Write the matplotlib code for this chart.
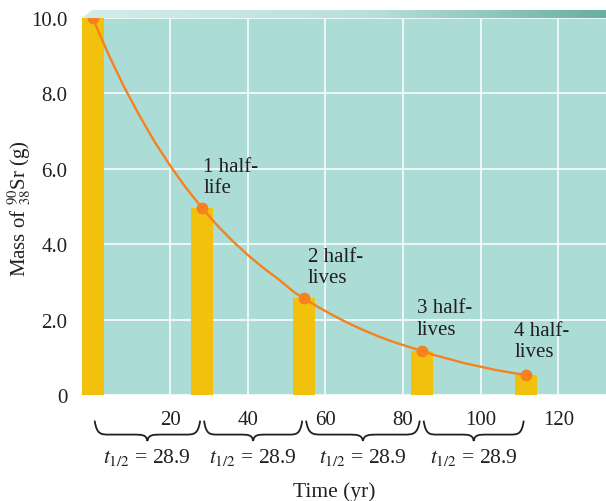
import numpy as np
import matplotlib
matplotlib.use("Agg")
import matplotlib.pyplot as plt
from matplotlib.path import Path
from matplotlib.patches import PathPatch, Polygon
from matplotlib.colors import LinearSegmentedColormap
from matplotlib.transforms import blended_transform_factory

# ── Data ─────────────────────────────────────────────────────────────────────────
half_life_times = [0.0, 28.2, 54.5, 84.8, 111.6]     # yr (bar / dot positions)
masses = [10.0, 4.96, 2.56, 1.17, 0.53]              # g of Sr-90
bar_labels = ["", "1 half-\nlife", "2 half-\nlives", "3 half-\nlives", "4 half-\nlives"]
label_x = [None, 28.5, 55.4, 83.6, 108.7]
label_y = [None, 6.32, 3.93, 2.56, 1.97]

# points
curve_t = [0.0, 4.0, 8.0, 12.0, 16.0, 20.0, 24.0, 28.2, 32.0, 36.0, 40.0, 44.0,
           48.0, 52.0, 54.5, 58.0, 62.0, 66.0, 70.0, 74.0, 78.0, 82.0, 84.8,
           88.0, 92.0, 96.0, 100.0, 104.0, 108.0, 111.6]
curve_m = [10.0, 9.05, 8.19, 7.42, 6.71, 6.08, 5.50, 4.96, 4.51, 4.09, 3.71, 3.37,
           3.06, 2.72, 2.56, 2.34, 2.11, 1.90, 1.71, 1.54, 1.39, 1.26, 1.17,
           1.06, 0.95, 0.84, 0.75, 0.66, 0.59, 0.53]

x_ticks = [20, 40, 60, 80, 100, 120]
y_ticks = [0, 2, 4, 6, 8, 10]
y_ticklabels = ["0", "2.0", "4.0", "6.0", "8.0", "10.0"]
half_life_text = r"$t_{1/2}$ = 28.9"

TEAL = "#abdcd6"
YELLOW = "#f2c10d"
ORANGE = "#f5821f"
INK = "#231f20"

plt.rcParams["font.family"] = ["Liberation Serif", "DejaVu Serif"]
plt.rcParams["mathtext.fontset"] = "stix"

fig = plt.figure(figsize=(6.06, 5.02), dpi=100)
ax = fig.add_axes([82 / 606, 106 / 502, 524 / 606, 377 / 502])
ax.set_facecolor(TEAL)
for s in ax.spines.values():
    s.set_visible(False)

ax.bar(half_life_times, masses, width=5.67, color=YELLOW, zorder=2)
ax.plot(curve_t, curve_m, color=ORANGE, lw=1.7, zorder=3, solid_joinstyle="round")
ax.plot(half_life_times, masses, "o", color=ORANGE, ms=7.5, zorder=4, clip_on=False)

ax.set_xlim(-2.76, 132.3)
ax.set_ylim(0, 10.0)
ax.set_xticks(x_ticks)
ax.set_yticks(y_ticks)
ax.set_yticklabels(y_ticklabels)
ax.tick_params(length=0, labelsize=15, colors=INK)
ax.tick_params(axis="x", pad=10.5)
ax.tick_params(axis="y", pad=10.5)
ax.grid(True, color="white", lw=1.1)
ax.set_axisbelow(True)

for lab, lx, ly in zip(bar_labels, label_x, label_y):
    if lab:
        ax.text(lx, ly, lab, fontsize=15, color=INK, ha="left", va="top",
                linespacing=1.15, zorder=5)

# ── Braces under the x axis ──────────────────────────────────────────────────────
trans = blended_transform_factory(ax.transData, ax.transAxes)


def draw_brace(x0, x1, y_end=-0.068, y_mid=-0.105, y_tip=-0.122):
    w = x1 - x0
    xm = (x0 + x1) / 2
    verts = [
        (x0, y_end),
        (x0 + 0.02 * w, y_mid), (x0 + 0.06 * w, y_mid), (x0 + 0.14 * w, y_mid),
        (xm - 0.14 * w, y_mid),
        (xm - 0.05 * w, y_mid), (xm - 0.01 * w, y_mid), (xm, y_tip),
        (xm + 0.01 * w, y_mid), (xm + 0.05 * w, y_mid), (xm + 0.14 * w, y_mid),
        (x1 - 0.14 * w, y_mid),
        (x1 - 0.06 * w, y_mid), (x1 - 0.02 * w, y_mid), (x1, y_end),
    ]
    codes = ([Path.MOVETO] + [Path.CURVE4] * 3 + [Path.LINETO] + [Path.CURVE4] * 6
             + [Path.LINETO] + [Path.CURVE4] * 3)
    patch = PathPatch(Path(verts, codes), transform=trans, fill=False,
                      edgecolor=INK, lw=1.3, clip_on=False)
    ax.add_patch(patch)
    ax.text(xm, -0.178, half_life_text, transform=trans, ha="center", va="baseline",
            fontsize=15.5, color=INK)


for a, b in zip(half_life_times[:-1], half_life_times[1:]):
    draw_brace(a + 0.5, b - 0.5)

ax.text(0.481, -0.268, "Time (yr)", transform=ax.transAxes, ha="center",
        va="baseline", fontsize=15.5, color=INK)
ax.text(-0.118, 0.496, r"Mass of $^{90}_{38}$Sr (g)", transform=ax.transAxes,
        rotation=90, ha="center", va="center", fontsize=15, color=INK)

# ── Slanted gradient strip on top of the panel ───────────────────────────────────
band = fig.add_axes([82 / 606, 483 / 502, 524 / 606, 8 / 502])
band.axis("off")
cmap = LinearSegmentedColormap.from_list(
    "band", [(0, "#d4ecea"), (0.55, "#b8e0db"), (1, "#66b0a2")])
im = band.imshow(np.linspace(0, 1, 256)[None, :], cmap=cmap, aspect="auto",
                 extent=[0, 1, 0, 1])
clip = Polygon([(0, 0), (1, 0), (1, 1), (9.7 / 524, 1)], transform=band.transData)
im.set_clip_path(clip)
band.set_xlim(0, 1)
band.set_ylim(0, 1)

fig.savefig("out.png", dpi=100)
